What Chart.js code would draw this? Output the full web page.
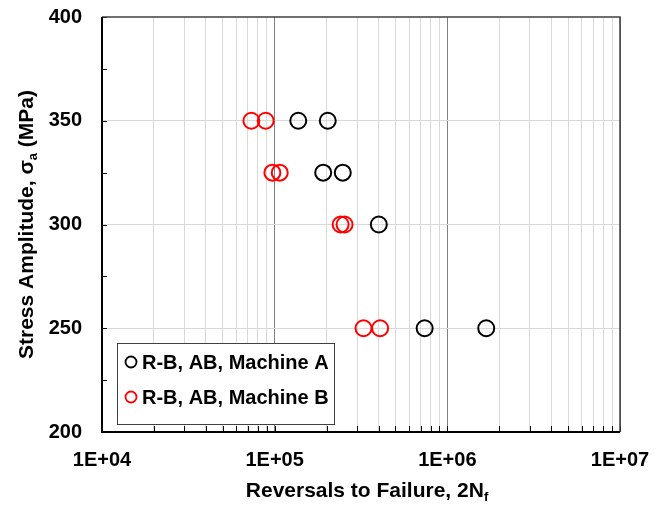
<!DOCTYPE html>
<html>
<head>
<meta charset="utf-8">
<script src="https://cdn.jsdelivr.net/npm/chart.js@4"></script>
<style>
  html, body { margin: 0; padding: 0; background: #fff; }
  canvas { display: block; }
</style>
</head>
<body>
<canvas id="c" width="668" height="507"></canvas>
<script>
// Fatigue results: reversals to failure vs. stress amplitude
const seriesLabels = ['R-B, AB, Machine A', 'R-B, AB, Machine B'];
const seriesColors = ['#000000', '#ff0000'];

const machineA_reversals = [137000, 203000, 191000, 248000, 401000, 739000, 1680000];
const machineA_stress    = [350,    350,    325,    325,    300,    250,    250];

const machineB_reversals = [73300, 88700, 97000, 107000, 241000, 254000, 327000, 408000];
const machineB_stress    = [350,   350,   325,   325,    300,    300,    250,    250];

const xDecades    = [1e4, 1e5, 1e6, 1e7];
const xTickLabels = ['1E+04', '1E+05', '1E+06', '1E+07'];
const yTickLabels = ['200', '250', '300', '350', '400'];

const xTitle = ['Reversals to Failure, 2N', 'f', ''];
const yTitle = ['Stress Amplitude, \u03c3', 'a', ' (MPa)'];

const FONT = '"Liberation Sans", Arial, Helvetica, sans-serif';

const toPoints = (xs, ys) => xs.map((x, i) => ({ x: x, y: ys[i] }));

// minor + major positions on the log axis
const xTickValues = [];
for (let d = 0; d < xDecades.length - 1; d++) {
  for (let m = 1; m <= 9; m++) xTickValues.push(xDecades[d] * m);
}
xTickValues.push(xDecades[xDecades.length - 1]);

const isDecade = v => xDecades.some(d => Math.abs(v - d) / d < 1e-9);

// frame, inward tick marks, titles with subscripts, legend box
const decorations = {
  id: 'decorations',
  beforeDatasetsDraw(chart) {
    const { ctx, chartArea: a, scales } = chart;
    ctx.save();
    // inward ticks on the bottom axis
    ctx.strokeStyle = '#000';
    ctx.lineWidth = 1;
    xTickValues.forEach(v => {
      const px = Math.round(scales.x.getPixelForValue(v)) + 0.5;
      ctx.beginPath();
      ctx.moveTo(px, a.bottom);
      ctx.lineTo(px, a.bottom - 6);
      ctx.stroke();
    });
    // inward ticks on the left axis
    for (let v = 200; v <= 400; v += 25) {
      const py = Math.round(scales.y.getPixelForValue(v)) + 0.5;
      ctx.beginPath();
      ctx.moveTo(a.left, py);
      ctx.lineTo(a.left + 5, py);
      ctx.stroke();
    }
    // top and right frame
    ctx.strokeStyle = '#404040';
    ctx.lineWidth = 1.5;
    ctx.beginPath();
    ctx.moveTo(a.left, a.top);
    ctx.lineTo(a.right, a.top);
    ctx.lineTo(a.right, a.bottom);
    ctx.stroke();
    // left and bottom axes
    ctx.strokeStyle = '#000';
    ctx.lineWidth = 2;
    ctx.beginPath();
    ctx.moveTo(a.left, a.top);
    ctx.lineTo(a.left, a.bottom);
    ctx.lineTo(a.right, a.bottom);
    ctx.stroke();
    ctx.restore();
  },
  afterDraw(chart) {
    const { ctx, chartArea: a } = chart;
    ctx.save();

    const drawSubText = (parts, size) => {
      const main = 'bold ' + size + 'px ' + FONT;
      const sub = 'bold ' + Math.round(size * 0.62) + 'px ' + FONT;
      ctx.font = main; const w0 = ctx.measureText(parts[0]).width;
      ctx.font = sub;  const w1 = ctx.measureText(parts[1]).width;
      ctx.font = main; const w2 = ctx.measureText(parts[2]).width;
      let x = -(w0 + w1 + w2) / 2;
      ctx.textAlign = 'left';
      ctx.textBaseline = 'alphabetic';
      ctx.font = main; ctx.fillText(parts[0], x, 0); x += w0;
      ctx.font = sub;  ctx.fillText(parts[1], x, size * 0.2); x += w1;
      ctx.font = main; ctx.fillText(parts[2], x, 0);
    };

    ctx.fillStyle = '#000';
    // x axis title
    ctx.save();
    ctx.translate((a.left + a.right) / 2 + 6, 497);
    drawSubText(xTitle, 21);
    ctx.restore();
    // y axis title
    ctx.save();
    ctx.translate(33, (a.top + a.bottom) / 2);
    ctx.rotate(-Math.PI / 2);
    drawSubText(yTitle, 21);
    ctx.restore();

    // legend
    const bx = 117, by = 343, bw = 217, bh = 81;
    ctx.fillStyle = '#fff';
    ctx.fillRect(bx, by, bw, bh);
    ctx.strokeStyle = '#404040';
    ctx.lineWidth = 1;
    ctx.strokeRect(bx + 0.5, by + 0.5, bw, bh);
    chart.data.datasets.forEach((ds, i) => {
      const cy = 362 + i * 35;
      ctx.beginPath();
      ctx.arc(131, cy, 5.5, 0, Math.PI * 2);
      ctx.strokeStyle = ds.borderColor;
      ctx.lineWidth = 1.8;
      ctx.stroke();
      ctx.fillStyle = '#000';
      ctx.font = 'bold 20px ' + FONT;
      ctx.textAlign = 'left';
      ctx.textBaseline = 'middle';
      ctx.fillText(ds.label, 142, cy + 1);
    });
    ctx.restore();
  }
};

new Chart(document.getElementById('c'), {
  type: 'scatter',
  data: {
    datasets: [
      {
        label: seriesLabels[0],
        data: toPoints(machineA_reversals, machineA_stress),
        borderColor: seriesColors[0],
        backgroundColor: 'rgba(0,0,0,0)',
        pointRadius: 8, pointBorderWidth: 2, pointHoverRadius: 8
      },
      {
        label: seriesLabels[1],
        data: toPoints(machineB_reversals, machineB_stress),
        borderColor: seriesColors[1],
        backgroundColor: 'rgba(0,0,0,0)',
        pointRadius: 8, pointBorderWidth: 2, pointHoverRadius: 8
      }
    ]
  },
  options: {
    responsive: false,
    animation: false,
    layout: { padding: { left: 42, top: 17, right: 48, bottom: 0 } },
    plugins: { legend: { display: false }, tooltip: { enabled: false } },
    scales: {
      x: {
        type: 'logarithmic',
        min: xDecades[0],
        max: xDecades[xDecades.length - 1],
        afterBuildTicks(scale) { scale.ticks = xTickValues.map(v => ({ value: v })); },
        afterFit(scale) { scale.height = 75; scale.paddingLeft = 0; scale.paddingRight = 0; },
        border: { display: false },
        grid: {
          drawTicks: false,
          lineWidth: 1,
          color: ctx => (ctx.tick && isDecade(ctx.tick.value)) ? '#7f7f7f' : '#d9d9d9'
        },
        ticks: {
          autoSkip: false, maxRotation: 0, padding: 16, color: '#000',
          font: { family: FONT, size: 20, weight: 'bold' },
          callback: v => {
            const i = xDecades.findIndex(d => Math.abs(v - d) / d < 1e-9);
            return i >= 0 ? xTickLabels[i] : '';
          }
        }
      },
      y: {
        min: 200, max: 400,
        afterFit(scale) { scale.width = 60; scale.paddingTop = 0; scale.paddingBottom = 0; },
        border: { display: false },
        grid: {
          drawTicks: false,
          lineWidth: 1,
          color: ctx => {
            const v = ctx.tick ? ctx.tick.value : 0;
            return (v % 50 === 0 && v > 200 && v < 400) ? '#d9d9d9' : 'rgba(0,0,0,0)';
          }
        },
        ticks: {
          stepSize: 25, padding: 20, color: '#000',
          font: { family: FONT, size: 20, weight: 'bold' },
          callback: v => (v % 50 === 0) ? yTickLabels[(v - 200) / 50] : ''
        }
      }
    }
  },
  plugins: [decorations]
});
</script>
</body>
</html>
